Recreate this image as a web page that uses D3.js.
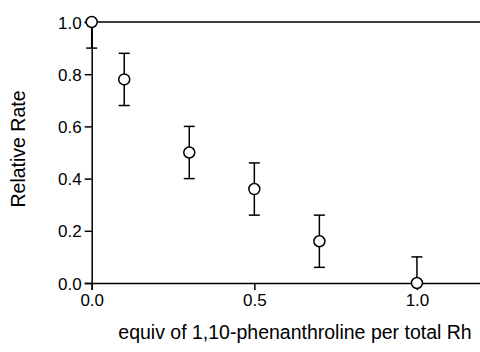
<!DOCTYPE html>
<html><head><meta charset="utf-8">
<script src="https://cdn.jsdelivr.net/npm/d3@7"></script>
<style>body{margin:0;background:#fff}svg{display:block}text{font-family:"Liberation Sans",Arial,sans-serif;fill:#000}</style>
</head><body><svg id="c" width="480" height="352"></svg>
<script>
const xVals = [0.0, 0.1, 0.3, 0.5, 0.7, 1.0];
const yVals = [1.0, 0.78, 0.50, 0.36, 0.16, 0.0];
const yErr  = [0.10, 0.10, 0.10, 0.10, 0.10, 0.10];
const xTicks = [0.0, 0.5, 1.0];
const yTicks = [0.0, 0.2, 0.4, 0.6, 0.8, 1.0];
const xLabel = "equiv of 1,10-phenanthroline per total Rh";
const yLabel = "Relative Rate";

const svg = d3.select("#c");
const x = d3.scaleLinear().domain([0, 1.2]).range([91.7, 482]);
const y = d3.scaleLinear().domain([0, 1]).range([283, 22]);

const clipY = v => Math.max(0, Math.min(1, v));

svg.append("line").attr("x1", x(0)).attr("x2", 482).attr("y1", y(1)).attr("y2", y(1))
  .attr("stroke", "#000").attr("stroke-width", 1.5);

const xAxis = svg.append("g").attr("transform", `translate(0,${y(0)})`)
  .call(d3.axisBottom(x).tickValues(xTicks).tickFormat(d3.format(".1f")).tickSize(7).tickPadding(4));
const yAxis = svg.append("g").attr("transform", `translate(${x(0)},0)`)
  .call(d3.axisLeft(y).tickValues(yTicks).tickFormat(d3.format(".1f")).tickSize(7).tickPadding(3));
[xAxis, yAxis].forEach(g => {
  g.select(".domain").attr("stroke", "#000").attr("stroke-width", 1.5);
  g.selectAll(".tick line").attr("stroke", "#000").attr("stroke-width", 1.5);
  g.selectAll(".tick text").style("font-size", "17px").style("font-family", "'Liberation Sans',Arial,sans-serif").attr("fill", "#000");
});
yAxis.selectAll(".tick text").attr("dy", "0.36em");
xAxis.selectAll(".tick text").attr("dy", "0.72em");

const data = xVals.map((d, i) => ({x: d, y: yVals[i], e: yErr[i]}));
const g = svg.append("g");
data.forEach(d => {
  const lo = clipY(d.y - d.e), hi = clipY(d.y + d.e);
  g.append("line").attr("x1", x(d.x)).attr("x2", x(d.x)).attr("y1", y(lo)).attr("y2", y(hi))
    .attr("stroke", "#000").attr("stroke-width", 1.5);
  [d.y - d.e, d.y + d.e].forEach(v => {
    if (v > 0 && v < 1) {
      g.append("line").attr("x1", x(d.x) - 5.5).attr("x2", x(d.x) + 5.5).attr("y1", y(v)).attr("y2", y(v))
        .attr("stroke", "#000").attr("stroke-width", 1.5);
    }
  });
});
g.selectAll("circle").data(data).enter().append("circle")
  .attr("cx", d => x(d.x)).attr("cy", d => y(d.y)).attr("r", 5.5)
  .attr("fill", "#fff").attr("stroke", "#000").attr("stroke-width", 1.5);

svg.append("text").attr("x", 295).attr("y", 339).attr("text-anchor", "middle")
  .style("font-size", "19.5px").text(xLabel);
svg.append("text").attr("transform", "translate(25,149) rotate(-90)").attr("text-anchor", "middle")
  .style("font-size", "19.5px").text(yLabel);
</script></body></html>
